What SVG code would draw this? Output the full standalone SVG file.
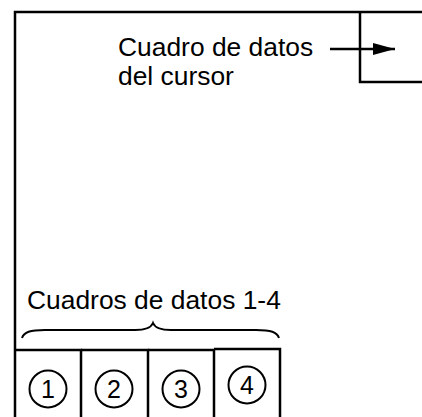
<svg xmlns="http://www.w3.org/2000/svg" width="422" height="417" viewBox="0 0 422 417">
<defs>
<style>
.ln{fill:none;stroke:#000;stroke-width:2.5}
.t{font-family:"Liberation Sans",Arial,sans-serif;font-size:26.4px;fill:#000}
.c{fill:none;stroke:#000;stroke-width:2}
.d{font-family:"Liberation Sans",Arial,sans-serif;font-size:25px;fill:#000;text-anchor:middle}
</style>
<marker id="ah" markerWidth="22" markerHeight="12" refX="22" refY="6" orient="auto" markerUnits="userSpaceOnUse" viewBox="0 0 22 12">
<path d="M0,0 L22,6 L0,12 Z" fill="#000"/>
</marker>
</defs>
<g id="display">
<path class="ln" d="M15,417 V12 H422"/>
</g>
<g id="cursor-box">
<path class="ln" d="M360,12 V82 H422"/>
</g>
<g id="label-cursor">
<text class="t" x="118" y="56">Cuadro de datos</text>
<text class="t" x="118" y="85">del cursor</text>
</g>
<g id="label-boxes">
<text class="t" x="27" y="309">Cuadros de datos 1-4</text>
</g>
<g id="box1">
<path class="ln" d="M15,350 H81 V417"/>
<circle class="c" cx="48" cy="389" r="18.5"/>
<text class="d" x="48" y="398">1</text>
</g>
<g id="box2">
<path class="ln" d="M81,350 H148 V417"/>
<circle class="c" cx="114" cy="389" r="18.5"/>
<text class="d" x="114" y="398">2</text>
</g>
<g id="box3">
<path class="ln" d="M148,350 H214 V417"/>
<circle class="c" cx="181" cy="389" r="18.5"/>
<text class="d" x="181" y="398">3</text>
</g>
<g id="box4">
<path class="ln" d="M214,349 H280 V417"/>
<circle class="c" cx="247" cy="385" r="18.5"/>
<text class="d" x="247" y="394">4</text>
</g>
<g id="connectors">
<line x1="330" y1="49" x2="395" y2="49" stroke="#000" stroke-width="2.5" marker-end="url(#ah)"/>
<path d="M22,338 C24,332 30,330 45,330 L135,330 C146,330 151,328 153,323 C155,328 160,330 171,330 L256,330 C271,330 277,332 279,338" fill="none" stroke="#000" stroke-width="2"/>
</g>
</svg>
